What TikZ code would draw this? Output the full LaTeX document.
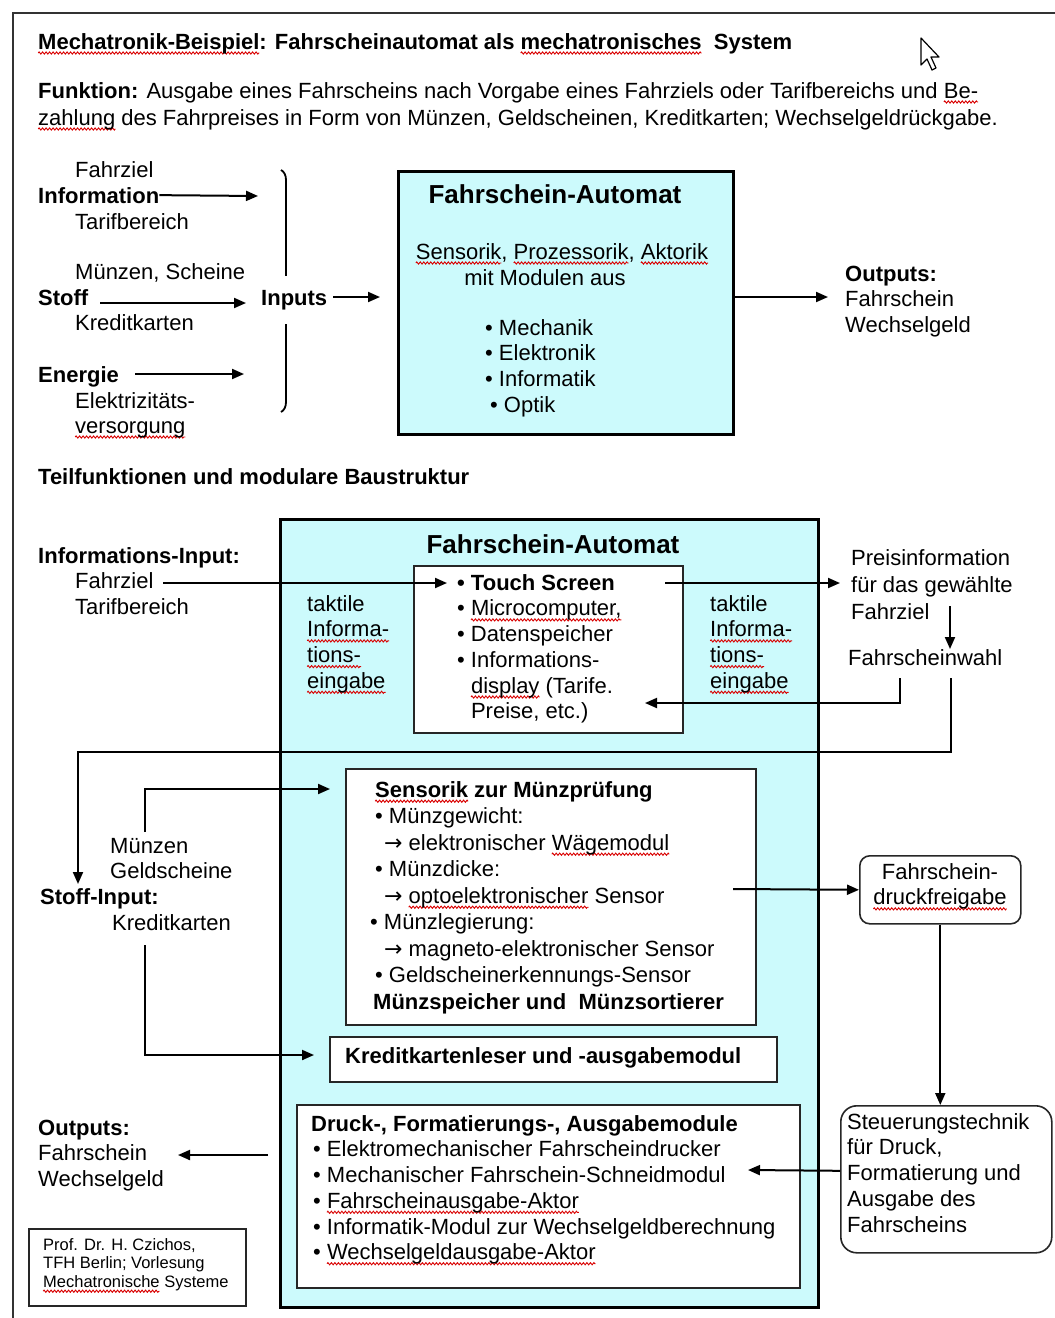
\documentclass[tikz,border=0pt]{standalone}
\usepackage{fontspec}
\setmainfont{Liberation Sans}
\newfontfamily\dvs{DejaVu Sans}
\usetikzlibrary{arrows.meta,decorations.pathreplacing,decorations.pathmorphing}
\definecolor{boxcyan}{RGB}{204,250,252}
\newsavebox\wvbox
\newcommand\wv[1]{\sbox\wvbox{#1}\rlap{\tikz[overlay,x=1pt,y=1pt]\draw[red!85!black,line width=0.9pt,decorate,decoration={zigzag,segment length=3.5pt,amplitude=1.1pt}] (0pt,-4pt)--(\the\wd\wvbox,-4pt);}\usebox\wvbox}
\newcommand\st{\rule{0pt}{20pt}}
\newcommand\ra{{\dvs →}}
\tikzset{
  txt/.style={font=\fontsize{22}{25.7}\selectfont, inner sep=0pt, anchor=base west},
  btxt/.style={txt, font=\fontsize{22}{25.7}\selectfont\bfseries},
  mtxt/.style={txt, anchor=north west, align=left},
  ttl/.style={font=\fontsize{26}{30}\selectfont\bfseries, inner sep=0pt, anchor=base},
  bigbox/.style={draw, line width=3pt, fill=boxcyan, inner sep=0pt, anchor=north west},
  wbox/.style={draw=black!85, line width=2pt, fill=white, inner sep=0pt, anchor=north west},
  rbox/.style={draw=black!85, line width=1.6pt, rounded corners=10pt, fill=white, inner sep=0pt, anchor=north west},
  arr/.style={line width=2pt, -{Triangle[length=12pt,width=10pt]}},
  ln/.style={line width=2pt},
}
\begin{document}
\begin{tikzpicture}[x=1pt,y=-1pt]
\useasboundingbox (0,0) rectangle (1055,1318);
\fill[white] (0,0) rectangle (1055,1318);
% frame
\draw[line width=2pt, black!80] (13,1318) -- (13,13) -- (1055,13);
% cursor
\draw[fill=white, line width=1.2pt, line join=round] (921,38) -- ++(0,27) -- ++(6,-6) -- ++(5,11) -- ++(4,-2) -- ++(-5,-11) -- ++(8,0) -- cycle;

% header
\node[btxt] (title) at (38,49) {\wv{Mechatronik-Beispiel}: Fahrscheinautomat als \wv{mechatronisches}\ \ System};
\node[txt] (fk1) at (38,98) {\textbf{Funktion:} Ausgabe eines Fahrscheins nach Vorgabe eines Fahrziels oder Tarifbereichs und \wv{Be-}};
\node[txt] (fk2) at (38,125) {\wv{zahlung} des Fahrpreises in Form von Münzen, Geldscheinen, Kreditkarten; Wechselgeldrückgabe.};

% ---------- top section
\node[txt] (fz) at (75,177) {Fahrziel};
\node[btxt] (info) at (38,203) {Information};
\node[txt] (tb) at (75,229) {Tarifbereich};
\node[txt] (ms) at (75,279) {Münzen, Scheine};
\node[btxt] (stoff) at (38,305) {Stoff};
\node[txt] (kk) at (75,330) {Kreditkarten};
\node[btxt] (energie) at (38,382) {Energie};
\node[txt] (ev) at (75,408) {Elektrizitäts-};
\node[txt] (ev2) at (75,433) {\wv{versorgung}};

\coordinate (ia) at (258,196);
\coordinate (sa1) at (100,303);
\coordinate (sa2) at (246,303);
\coordinate (ea1) at (135,374);
\coordinate (ea2) at (244,374);
\draw[arr] (info.east) -- (ia);
\draw[arr] (sa1) -- (sa2);
\draw[arr] (ea1) -- (ea2);

\coordinate (br1) at (281,170);
\coordinate (br2) at (281,412);
\draw[line width=1.8pt, decorate, decoration={brace, amplitude=10pt}] (br1) -- (br2);
\node[btxt, fill=white, inner xsep=3pt, inner ysep=14pt] (inputs) at (258,305) {Inputs};

\node[bigbox, minimum width=335pt, minimum height=263pt] (box1) at (397,170) {};
\coordinate (inA) at (333,297);
\coordinate (inB) at (380,297);
\draw[arr] (inA) -- (inB);
\node[ttl] (t1) at (555,203) {Fahrschein-Automat};
\node[txt, anchor=base] (spa) at (562,259) {\wv{Sensorik}, \wv{Prozessorik}, \wv{Aktorik}};
\node[txt, anchor=base] (mma) at (545,285) {mit Modulen aus};
\node[mtxt] (mods) at (485,315) {\st• Mechanik\\• Elektronik\\• Informatik\\\hspace*{5pt}• Optik};

\coordinate (outA) at (828,297);
\draw[arr] (box1.east |- inA) -- (outA);
\node[mtxt] (out1) at (845,261) {\st\textbf{Outputs:}\\Fahrschein\\Wechselgeld};

\node[btxt] (tf) at (38,484) {Teilfunktionen und modulare Baustruktur};

% ---------- bottom section
\node[bigbox, minimum width=538pt, minimum height=788pt] (box2) at (279,518) {};
\node[ttl] (t2) at (553,553) {Fahrschein-Automat};
\node[wbox, minimum width=269pt, minimum height=167pt] (touch) at (413,565) {};
\node[wbox, minimum width=410pt, minimum height=256pt] (sens) at (345,768) {};
\node[wbox, minimum width=447pt, minimum height=45pt] (kr) at (329,1036) {};
\node[wbox, minimum width=503pt, minimum height=183pt] (dr) at (296,1104) {};
\node[rbox, minimum width=161pt, minimum height=68pt] (dfb) at (859,855) {};
\node[rbox, rounded corners=16pt, minimum width=211pt, minimum height=147pt] (steu) at (840,1105) {};
\node[draw=black!85, line width=1.6pt, inner sep=0pt, anchor=north west, minimum width=217pt, minimum height=77pt] (cr) at (28,1228) {};

% information input
\node[mtxt] (ii) at (38,543) {\st\textbf{Informations-Input:}\\\hspace*{37pt}Fahrziel\\\hspace*{37pt}Tarifbereich};
\coordinate (fa1) at (163,583);
\coordinate (fa2) at (447,583);
\draw[arr] (fa1) -- (fa2);

\node[mtxt] (tk1) at (307,591) {\st taktile\\\wv{Informa-}\\\wv{tions-}\\\wv{eingabe}};
\node[mtxt] (tk2) at (710,591) {\st taktile\\\wv{Informa-}\\\wv{tions-}\\\wv{eingabe}};

\node[mtxt] (tl) at (457,570) {\st\textbf{• Touch Screen}\\• \wv{Microcomputer,}\\• Datenspeicher\\• Informations-\\\phantom{• }\wv{display} (Tarife.\\\phantom{• }Preise, etc.)};

\coordinate (pa1) at (665,583);
\coordinate (pa2) at (840,583);
\draw[arr] (pa1) -- (pa2);
\node[mtxt, font=\fontsize{22}{27}\selectfont] (pi) at (851,545) {\st Preisinformation\\für das gewählte\\Fahrziel};
\coordinate (da1) at (950,606);
\coordinate (da2) at (950,649);
\draw[arr] (da1) -- (da2);
\node[txt] (fw) at (848,665) {Fahrscheinwahl};

\coordinate (fw1) at (900,678);
\coordinate (fw2) at (645,703);
\draw[arr] (fw1) |- (fw2);
\coordinate (fw3) at (951,678);
\coordinate (fw4) at (78,752);
\coordinate (fw5) at (78,884);
\draw[arr] (fw3) |- (fw4) -- (fw5);

% stoff input
\node[mtxt] (si) at (40,833) {\st\hspace*{70pt}Münzen\\\hspace*{70pt}Geldscheine\\\textbf{Stoff-Input:}\\\hspace*{72pt}Kreditkarten};
\coordinate (sm1) at (145,832);
\coordinate (sm2) at (330,789);
\draw[arr] (sm1) |- (sm2);
\coordinate (sk1) at (145,945);
\coordinate (sk2) at (314,1055);
\draw[arr] (sk1) |- (sk2);

\node[mtxt, font=\fontsize{22}{26.5}\selectfont] (sl) at (370,777) {\st\hspace*{5pt}\textbf{\wv{Sensorik} zur Münzprüfung}\\\hspace*{5pt}• Münzgewicht:\\\hspace*{14pt}\ra\ elektronischer \wv{Wägemodul}\\\hspace*{5pt}• Münzdicke:\\\hspace*{14pt}\ra\ \wv{optoelektronischer} Sensor\\• Münzlegierung:\\\hspace*{14pt}\ra\ magneto-elektronischer Sensor\\\hspace*{5pt}• Geldscheinerkennungs-Sensor\\\hspace*{3pt}\textbf{Münzspeicher und\ \ Münzsortierer}};

\coordinate (sd1) at (733,889);
\draw[arr] (sd1) -- (dfb.west);
\node[mtxt, anchor=north, align=center] (dfbt) at (940,859) {\st Fahrschein-\\\wv{druckfreigabe}};
\draw[arr] (dfb.south) -- (dfb.south |- steu.north);

\node[mtxt] (steut) at (847,1109) {\st Steuerungstechnik\\für Druck,\\Formatierung und\\Ausgabe des\\Fahrscheins};
\coordinate (sa) at (748,1170);
\draw[arr] ([yshift=8.5pt]steu.west) -- (sa);

\node[btxt] (krt) at (345,1063) {Kreditkartenleser und -ausgabemodul};

\node[mtxt] (drt) at (311,1111) {\st\textbf{Druck-, Formatierungs-, Ausgabemodule}\\\hspace*{2pt}• Elektromechanischer Fahrscheindrucker\\\hspace*{2pt}• Mechanischer Fahrschein-Schneidmodul\\\hspace*{2pt}• \wv{Fahrscheinausgabe-Aktor}\\\hspace*{2pt}• Informatik-Modul zur Wechselgeldberechnung\\\hspace*{2pt}• \wv{Wechselgeldausgabe-Aktor}};

\coordinate (oa1) at (268,1155);
\coordinate (oa2) at (178,1155);
\draw[arr] (oa1) -- (oa2);
\node[mtxt] (out2) at (38,1115) {\st\textbf{Outputs:}\\Fahrschein\\Wechselgeld};

\node[anchor=north west, align=left, inner sep=0pt, font=\fontsize{16.5}{18.5}\selectfont] (crt) at (43,1234) {\rule{0pt}{16pt}Prof. Dr. H. Czichos,\\TFH Berlin; Vorlesung\\\wv{Mechatronische} Systeme};
\end{tikzpicture}
\end{document}
